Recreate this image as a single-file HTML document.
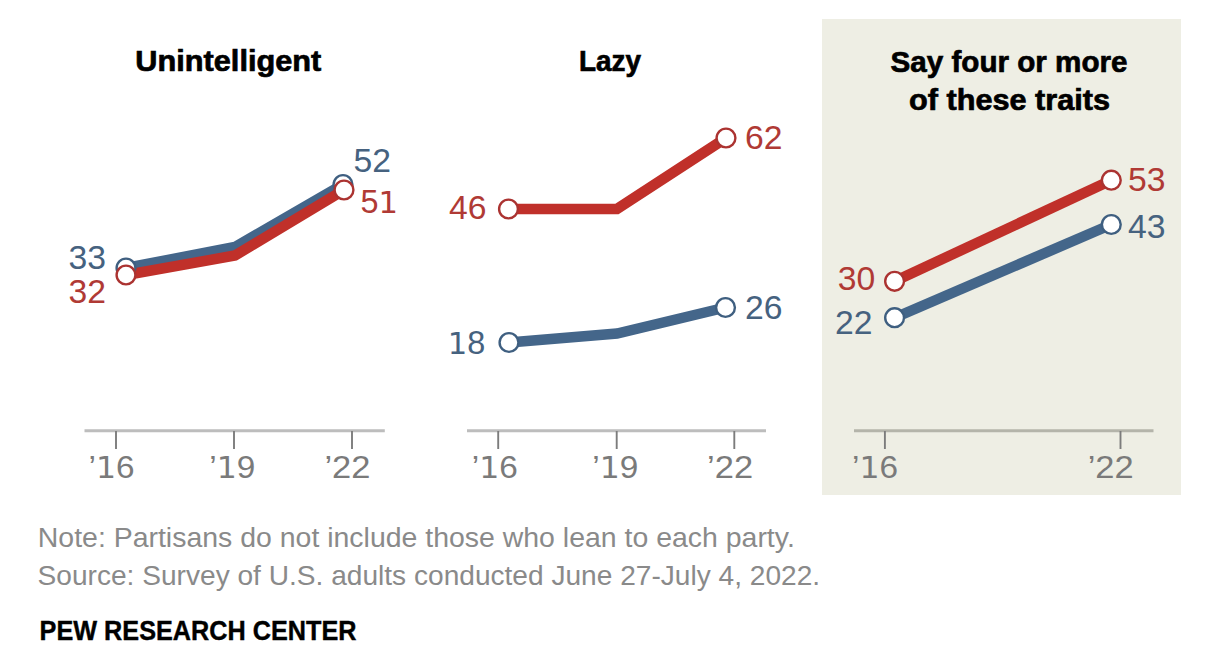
<!DOCTYPE html>
<html><head><meta charset="utf-8"><title>Partisans view members of the other party</title>
<style>
html,body{margin:0;padding:0;background:#fff;width:1214px;height:654px;overflow:hidden}
svg{display:block}
.t{font-family:"Liberation Sans",Arial,sans-serif;font-weight:bold;font-size:30px;fill:#000;stroke:#000;stroke-width:0.7px}
.ax{font-family:"Liberation Sans",Arial,sans-serif;font-size:32px;fill:#7a7a7a}
.v{font-family:"Liberation Sans",Arial,sans-serif;font-size:32.5px}
.r{fill:#b03a35}
.b{fill:#46627f}
.note{font-family:"Liberation Sans",Arial,sans-serif;font-size:27.5px;fill:#8a8a8a}
.pew{font-family:"Liberation Sans",Arial,sans-serif;font-weight:bold;font-size:27px;fill:#000;stroke:#000;stroke-width:0.4px}
</style></head>
<body>
<svg width="1214" height="654" viewBox="0 0 1214 654">
<rect x="0" y="0" width="1214" height="654" fill="#fff"/>
<rect x="822" y="19" width="359" height="476" fill="#eeeee4"/>

<text class="t" x="228.3" y="71" text-anchor="middle" textLength="186" lengthAdjust="spacingAndGlyphs">Unintelligent</text>
<text class="t" x="610" y="71" text-anchor="middle" textLength="62" lengthAdjust="spacingAndGlyphs">Lazy</text>
<text class="t" x="1009" y="72" text-anchor="middle" textLength="237" lengthAdjust="spacingAndGlyphs">Say four or more</text>
<text class="t" x="1009.5" y="109.6" text-anchor="middle" textLength="201" lengthAdjust="spacingAndGlyphs">of these traits</text>
<g stroke="#bdbdbd" stroke-width="3">
<line x1="84.5" y1="430.8" x2="384.8" y2="430.8"/>
<line x1="467" y1="430.8" x2="766" y2="430.8"/>
<line x1="854" y1="430.8" x2="1153.5" y2="430.8" stroke="#b4b4aa"/>
</g>
<g stroke="#7c7c7c" stroke-width="1.9">
<line x1="116" y1="431" x2="116" y2="449"/>
<line x1="234" y1="431" x2="234" y2="449"/>
<line x1="352" y1="431" x2="352" y2="449"/>
<line x1="498.2" y1="431" x2="498.2" y2="449"/>
<line x1="616.7" y1="431" x2="616.7" y2="449"/>
<line x1="734.3" y1="431" x2="734.3" y2="449"/>
<line x1="884.9" y1="431" x2="884.9" y2="449"/>
<line x1="1120.5" y1="431" x2="1120.5" y2="449"/>
</g>
<g class="ax">
<text x="111.5" y="477.8" text-anchor="middle" textLength="46" lengthAdjust="spacingAndGlyphs">’<tspan style="font-family:'DejaVu Sans',sans-serif;font-size:30.24px">1</tspan>6</text>
<text x="232.3" y="477.8" text-anchor="middle" textLength="46" lengthAdjust="spacingAndGlyphs">’<tspan style="font-family:'DejaVu Sans',sans-serif;font-size:30.24px">1</tspan>9</text>
<text x="347.4" y="477.8" text-anchor="middle" textLength="46" lengthAdjust="spacingAndGlyphs">’22</text>
<text x="494.8" y="477.8" text-anchor="middle" textLength="46" lengthAdjust="spacingAndGlyphs">’<tspan style="font-family:'DejaVu Sans',sans-serif;font-size:30.24px">1</tspan>6</text>
<text x="615.3" y="477.8" text-anchor="middle" textLength="46" lengthAdjust="spacingAndGlyphs">’<tspan style="font-family:'DejaVu Sans',sans-serif;font-size:30.24px">1</tspan>9</text>
<text x="730.1" y="477.8" text-anchor="middle" textLength="46" lengthAdjust="spacingAndGlyphs">’22</text>
<text x="875.1" y="477.8" text-anchor="middle" textLength="46" lengthAdjust="spacingAndGlyphs">’<tspan style="font-family:'DejaVu Sans',sans-serif;font-size:30.24px">1</tspan>6</text>
<text x="1110.7" y="477.8" text-anchor="middle" textLength="46" lengthAdjust="spacingAndGlyphs">’22</text>
</g>
<g fill="none" stroke-width="10.5" stroke-linejoin="miter">
<polyline stroke="#44668a" points="126,268 235,247 343,184.5"/>
<polyline stroke="#c0302a" points="126,275 235,255.5 344,190"/>
<polyline stroke="#c0302a" points="508.5,209 617,209 726,138"/>
<polyline stroke="#44668a" points="509,342.5 617,333.5 725.5,307.5"/>
<polyline stroke="#c0302a" points="894.6,281.3 1111.3,180.2"/>
<polyline stroke="#44668a" points="894.6,317.7 1111.3,224.5"/>
</g>
<g fill="#fff" stroke-width="2.4">
<circle cx="126" cy="268" r="9.4" stroke="#3f5f80"/>
<circle cx="343" cy="184.5" r="9.4" stroke="#3f5f80"/>
<circle cx="126" cy="275" r="9.4" stroke="#ab3331"/>
<circle cx="344" cy="190" r="9.4" stroke="#ab3331"/>
<circle cx="508.5" cy="209" r="9.4" stroke="#ab3331"/>
<circle cx="726" cy="138" r="9.4" stroke="#ab3331"/>
<circle cx="509" cy="342.5" r="9.4" stroke="#3f5f80"/>
<circle cx="725.5" cy="307.5" r="9.4" stroke="#3f5f80"/>
<circle cx="894.6" cy="281.3" r="9.4" stroke="#ab3331"/>
<circle cx="1111.3" cy="180.2" r="9.4" stroke="#ab3331"/>
<circle cx="894.6" cy="317.7" r="9.4" stroke="#3f5f80"/>
<circle cx="1111.3" cy="224.5" r="9.4" stroke="#3f5f80"/>
</g>
<g class="v">
<text id="v33b" class="b" x="68.5" y="268.6" textLength="37.5" lengthAdjust="spacingAndGlyphs">33</text>
<text id="v32r" class="r" x="68.5" y="302.6" textLength="37.5" lengthAdjust="spacingAndGlyphs">32</text>
<text id="v52b" class="b" x="353.6" y="172.3" textLength="37.5" lengthAdjust="spacingAndGlyphs">52</text>
<text id="v51r" class="r" x="360.6" y="213.4" textLength="37.5" lengthAdjust="spacingAndGlyphs">5<tspan style="font-family:'DejaVu Sans',sans-serif;font-size:30.71px">1</tspan></text>
<text id="v46r" class="r" x="449.1" y="219.3" textLength="37.5" lengthAdjust="spacingAndGlyphs">46</text>
<text id="v62r" class="r" x="745.1" y="148.7" textLength="37.5" lengthAdjust="spacingAndGlyphs">62</text>
<text id="v18b" class="b" x="447.8" y="354.4" textLength="37.5" lengthAdjust="spacingAndGlyphs"><tspan style="font-family:'DejaVu Sans',sans-serif;font-size:30.71px">1</tspan>8</text>
<text id="v26b" class="b" x="745.0" y="318.6" textLength="37.5" lengthAdjust="spacingAndGlyphs">26</text>
<text id="v30r" class="r" x="837.7" y="289.7" textLength="37.5" lengthAdjust="spacingAndGlyphs">30</text>
<text id="v22b" class="b" x="835.0" y="333.6" textLength="37.5" lengthAdjust="spacingAndGlyphs">22</text>
<text id="v53r" class="r" x="1128.1" y="191.1" textLength="37.5" lengthAdjust="spacingAndGlyphs">53</text>
<text id="v43b" class="b" x="1128.0" y="238.1" textLength="37.5" lengthAdjust="spacingAndGlyphs">43</text>
</g>
<text class="note" x="37.8" y="547" textLength="757" lengthAdjust="spacingAndGlyphs">Note: Partisans do not include those who lean to each party.</text>
<text class="note" x="37.6" y="585.2" textLength="782.5" lengthAdjust="spacingAndGlyphs">Source: Survey of U.S. adults conducted June 27-July 4, 2022.</text>
<text class="pew" x="39.6" y="640" textLength="317" lengthAdjust="spacingAndGlyphs">PEW RESEARCH CENTER</text>
</svg>
</body></html>
